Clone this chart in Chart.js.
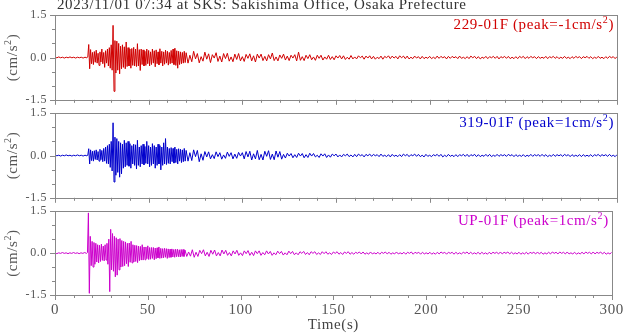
<!DOCTYPE html>
<html>
<head>
<meta charset="utf-8">
<script src="https://cdn.jsdelivr.net/npm/chart.js@4.4.0/dist/chart.umd.min.js"></script>
<style>
  body { margin: 0; background: #fff; }
  #wrap { position: relative; width: 629px; height: 334px; }
  canvas { position: absolute; left: 0; display: block; }
</style>
</head>
<body>
<div id="wrap">
  <canvas id="c1" width="629" height="115" style="top:0"></canvas>
  <canvas id="c2" width="629" height="115" style="top:98px"></canvas>
  <canvas id="c3" width="629" height="138" style="top:196px"></canvas>
</div>
<script>
// titulo e rotulos
const titulo = '2023/11/01 07:34 at SKS: Sakishima Office, Osaka Prefecture';
const canais = ['229-01F', '319-01F', 'UP-01F'];
const picos = [-1, 1, 1];
const cores = ['#d00000', '#0000cc', '#cc00cc'];
const xTickLabels = [0, 50, 100, 150, 200, 250, 300];
const yTickLabels = [-1.5, 0, 1.5];

// amostragem: 0-17 s a cada 1 s, 17.5-70 s a cada 0.5 s, 71-300 s a cada 1 s
const segInicio = [0, 17.5, 71];
const segPasso = [1, 0.5, 1];

// aceleracao (cm/s2) - 229-01F
const acc229Pre = [0.01,-0.01,0.02,-0.01,0.01,-0.02,0.01,-0.01,0.02,-0.01,0.01,-0.02,0.01,-0.01,0.01,-0.02,0.01,-0.01];
const acc229Main = [
  0.02,0.46,-0.40,0.28,-0.22,0.18,-0.25,0.21,-0.17,0.26,
  -0.2,0.15,-0.28,0.2,-0.16,0.3,-0.22,0.18,-0.35,0.24,
  -0.2,0.3,-0.3,0.35,-0.38,0.45,-0.45,1.14,-1.2,0.6,
  -0.55,0.58,-0.45,0.5,-0.58,0.4,-0.4,0.45,-0.35,0.38,
  -0.4,0.55,-0.32,0.35,-0.3,0.3,-0.38,0.32,-0.28,0.36,
  -0.3,0.3,-0.32,0.49,-0.3,0.28,-0.46,0.3,-0.25,0.27,
  -0.3,0.22,-0.28,0.3,-0.22,0.25,-0.3,0.2,-0.25,0.3,
  -0.2,0.24,-0.33,0.27,-0.22,0.2,-0.26,0.31,-0.2,0.22,
  -0.3,0.2,-0.24,0.26,-0.2,0.22,-0.27,0.18,-0.22,0.25,
  -0.2,0.3,-0.25,0.33,-0.28,0.24,-0.38,0.22,-0.25,0.2,
  -0.22,0.18,-0.2,0.22,-0.18,0.17];
const acc229Coda = [
  -0.2,0.08,-0.15,0.22,-0.05,0.14,-0.19,0.03,-0.13,0.19,
  -0.06,0.13,-0.18,0.1,-0.02,0.17,-0.14,0.05,-0.16,0.14,
  -0.04,0.15,-0.13,0.02,-0.15,0.12,-0.07,0.14,-0.12,0.03,
  -0.14,0.11,-0.03,0.13,-0.12,0.06,-0.16,0.12,-0.02,0.12,
  -0.11,0.04,-0.12,0.1,-0.05,0.16,-0.11,0.02,-0.12,0.09,
  -0.03,0.12,-0.09,0.05,-0.11,0.08,-0.02,0.1,-0.12,0.19,
  -0.1,0.03,-0.11,0.08,-0.04,0.1,-0.08,0.02,-0.1,0.08,
  -0.03,0.08,-0.09,0.02,-0.06,0.08,-0.07,0.03,-0.08,0.06,
  -0.02,0.07,-0.05,0.06,-0.07,0.01,-0.06,0.07,-0.05,0.02,
  -0.05,0.06,-0.01,0.05,-0.06,0.05,-0.02,0.06,-0.05,0.04,
  -0.06,0.01,-0.04,0.05,-0.06,0.04,-0.01,0.06,-0.04,0.05,
  -0.02,0.04,-0.05,0.06,-0.01,0.05,-0.04,0.05,-0.05,0.01,
  -0.04,0.05,-0.02,0.03,-0.05,0.04,-0.04,0.01,-0.03,0.04,
  -0.04,0.01,-0.04,0.05,-0.03,0.04,-0.01,0.03,-0.05,0.04,
  -0.03,0.04,-0.01,0.03,-0.04,0.05,-0.03,0.01,-0.04,0.03,
  -0.04,0.05,-0.01,0.04,-0.04,0.03,-0.05,0.01,-0.03,0.04,
  -0.04,0.03,-0.01,0.04,-0.03,0.04,-0.05,0.03,-0.01,0.04,
  -0.03,0.04,-0.04,0.01,-0.04,0.03,-0.04,0.04,-0.01,0.04,
  -0.04,0.03,-0.03,0.04,-0.01,0.03,-0.04,0.03,-0.03,0.01,
  -0.03,0.04,-0.04,0.03,-0.01,0.04,-0.03,0.03,-0.04,0.01,
  -0.03,0.04,-0.03,0.01,-0.04,0.03,-0.03,0.04,-0.01,0.03,
  -0.04,0.03,-0.01,0.04,-0.03,0.03,-0.04,0.01,-0.03,0.04,
  -0.03,0.01,-0.04,0.03,-0.03,0.04,-0.01,0.03,-0.04,0.03];

// 319-01F
const acc319Pre = [0.02,-0.01,0.01,-0.02,0.01,-0.01,0.02,-0.01,0.01,-0.02,0.01,-0.01,0.02,-0.01,0.01,-0.02,0.01,-0.01];
const acc319Main = [
  0.01,0.24,-0.3,0.2,-0.18,0.15,-0.2,0.17,-0.14,0.2,
  -0.16,0.14,-0.2,0.22,-0.15,0.18,-0.22,0.25,-0.2,0.3,
  -0.28,0.35,-0.3,0.4,-0.42,0.5,-0.55,1.16,-0.94,0.65,
  -0.7,0.6,-0.6,0.5,-0.77,0.45,-0.65,0.4,-0.45,0.54,
  -0.4,0.45,-0.35,0.5,-0.38,0.42,-0.45,0.35,-0.3,0.4,
  -0.35,0.38,-0.48,0.54,-0.35,0.3,-0.4,0.35,-0.3,0.4,
  -0.33,0.32,-0.28,0.5,-0.3,0.35,-0.4,0.3,-0.35,0.42,
  -0.3,0.35,-0.45,0.3,-0.35,0.4,-0.3,0.35,-0.51,0.3,
  -0.35,0.45,-0.3,0.6,-0.32,0.3,-0.28,0.25,-0.3,0.28,
  -0.22,0.25,-0.27,0.3,-0.25,0.22,-0.3,0.24,-0.2,0.22,
  -0.25,0.2,-0.22,0.25,-0.2,0.18];
const acc319Coda = [
  -0.2,0.1,-0.18,0.2,-0.04,0.18,-0.22,0.06,-0.17,0.14,
  -0.05,0.13,-0.12,0.03,-0.11,0.13,-0.04,0.1,-0.13,0.02,
  -0.1,0.12,-0.03,0.1,-0.12,0.05,-0.1,0.11,-0.02,0.1,
  -0.12,0.14,-0.05,0.15,-0.16,0.06,-0.12,0.18,-0.15,0.04,
  -0.16,0.15,-0.03,0.17,-0.14,0.05,-0.15,0.16,-0.06,0.14,
  -0.13,0.04,-0.09,0.08,-0.02,0.07,-0.08,0.03,-0.07,0.08,
  -0.02,0.07,-0.08,0.03,-0.07,0.08,-0.02,0.07,-0.05,0.01,
  -0.07,0.06,-0.02,0.06,-0.07,0.02,-0.06,0.05,-0.01,0.05,
  -0.05,0.02,-0.05,0.04,-0.01,0.05,-0.04,0.02,-0.05,0.04,
  -0.04,0.05,-0.01,0.03,-0.05,0.04,-0.01,0.05,-0.03,0.04,
  -0.01,0.03,-0.04,0.05,-0.03,0.01,-0.04,0.03,-0.05,0.04,
  -0.03,0.01,-0.04,0.03,-0.04,0.05,-0.01,0.04,-0.04,0.03,
  -0.01,0.05,-0.03,0.04,-0.04,0.01,-0.05,0.04,-0.03,0.01,
  -0.04,0.03,-0.01,0.04,-0.03,0.04,-0.05,0.01,-0.04,0.04,
  -0.03,0.01,-0.04,0.03,-0.04,0.03,-0.01,0.04,-0.03,0.04,
  -0.04,0.03,-0.01,0.04,-0.04,0.03,-0.04,0.01,-0.03,0.04,
  -0.03,0.04,-0.04,0.01,-0.03,0.04,-0.03,0.03,-0.01,0.03,
  -0.03,0.04,-0.01,0.03,-0.04,0.03,-0.03,0.01,-0.03,0.03,
  -0.04,0.01,-0.03,0.04,-0.03,0.03,-0.01,0.03,-0.03,0.04,
  -0.03,0.03,-0.04,0.01,-0.03,0.04,-0.03,0.03,-0.01,0.03,
  -0.03,0.04,-0.01,0.03,-0.04,0.03,-0.03,0.01,-0.03,0.03,
  -0.04,0.03,-0.03,0.01,-0.03,0.03,-0.04,0.03,-0.01,0.04,
  -0.03,0.03,-0.01,0.03,-0.03,0.04,-0.03,0.01,-0.04,0.03];

// UP-01F
const accUPPre = [0.01,-0.02,0.01,-0.01,0.02,-0.01,0.01,-0.02,0.01,-0.01,0.02,-0.01,0.01,-0.02,0.01,-0.01,0.02,-0.01];
const accUPMain = [
  0.02,1.44,-1.44,0.6,-0.45,0.42,-0.5,0.38,-0.4,0.35,
  -0.32,0.3,-0.35,0.28,-0.3,0.32,-0.26,0.25,-0.28,0.3,
  -0.25,0.35,-0.4,0.5,-1.38,0.85,-0.6,0.7,-0.65,0.6,
  -0.85,0.55,-0.79,0.5,-0.6,0.52,-0.5,0.45,-0.48,0.42,
  -0.45,0.4,-0.38,0.35,-0.48,0.36,-0.33,0.42,-0.35,0.3,
  -0.32,0.28,-0.3,0.27,-0.34,0.25,-0.27,0.24,-0.25,0.3,
  -0.25,0.22,-0.24,0.22,-0.2,0.26,-0.23,0.2,-0.22,0.2,
  -0.19,0.2,-0.24,0.18,-0.2,0.19,-0.17,0.22,-0.19,0.17,
  -0.18,0.16,-0.17,0.17,-0.15,0.16,-0.19,0.15,-0.16,0.14,
  -0.15,0.15,-0.14,0.13,-0.15,0.14,-0.13,0.14,-0.13,0.12,
  -0.14,0.13,-0.12,0.13,-0.12,0.11];
const accUPCoda = [
  -0.12,0.04,-0.11,0.12,-0.15,0.03,-0.12,0.1,-0.02,0.12,
  -0.1,0.03,-0.12,0.1,-0.04,0.11,-0.1,0.02,-0.1,0.11,
  -0.03,0.1,-0.08,0.02,-0.1,0.08,-0.03,0.1,-0.08,0.01,
  -0.09,0.08,-0.02,0.09,-0.08,0.03,-0.09,0.08,-0.02,0.08,
  -0.08,0.02,-0.06,0.08,-0.03,0.06,-0.08,0.01,-0.06,0.07,
  -0.02,0.06,-0.07,0.01,-0.06,0.07,-0.02,0.06,-0.06,0.01,
  -0.06,0.05,-0.01,0.06,-0.05,0.02,-0.06,0.05,-0.01,0.05,
  -0.05,0.01,-0.05,0.05,-0.02,0.05,-0.04,0.01,-0.05,0.04,
  -0.01,0.05,-0.04,0.02,-0.05,0.04,-0.01,0.05,-0.04,0.02,
  -0.04,0.03,-0.01,0.04,-0.03,0.04,-0.04,0.01,-0.04,0.04,
  -0.03,0.01,-0.03,0.03,-0.04,0.03,-0.01,0.04,-0.03,0.03,
  -0.04,0.01,-0.03,0.04,-0.03,0.01,-0.03,0.03,-0.04,0.03,
  -0.01,0.04,-0.04,0.03,-0.01,0.03,-0.04,0.03,-0.03,0.01,
  -0.03,0.03,-0.04,0.01,-0.04,0.03,-0.03,0.04,-0.01,0.03,
  -0.04,0.03,-0.01,0.03,-0.04,0.03,-0.03,0.01,-0.03,0.03,
  -0.01,0.04,-0.03,0.03,-0.03,0.01,-0.03,0.03,-0.04,0.03,
  -0.03,0.01,-0.04,0.03,-0.03,0.03,-0.01,0.03,-0.03,0.04,
  -0.03,0.03,-0.01,0.04,-0.03,0.03,-0.03,0.01,-0.03,0.03,
  -0.04,0.01,-0.03,0.03,-0.04,0.03,-0.01,0.03,-0.03,0.04,
  -0.03,0.03,-0.04,0.01,-0.03,0.03,-0.03,0.04,-0.01,0.03,
  -0.03,0.04,-0.01,0.03,-0.03,0.04,-0.03,0.01,-0.03,0.03,
  -0.04,0.01,-0.03,0.03,-0.03,0.04,-0.01,0.03,-0.03,0.04,
  -0.03,0.03,-0.01,0.04,-0.03,0.03,-0.04,0.01,-0.03,0.03];

const FONTE = '"Liberation Serif", "Times New Roman", serif';
const ESPACO = '0.6px';

function montarPontos(segs) {
    var pts = [];
    for (var s = 0; s < segs.length; s++) {
        for (var i = 0; i < segs[s].length; i++) {
            pts.push({ x: segInicio[s] + i * segPasso[s], y: segs[s][i] });
        }
    }
    return pts;
}

// texto com expoente (cm/s2)
function textoSup(ctx, antes, sup, depois, x, y, align, size) {
    ctx.font = size + 'px ' + FONTE;
    var w1 = ctx.measureText(antes).width;
    var w3 = ctx.measureText(depois).width;
    ctx.font = Math.round(size * 0.68) + 'px ' + FONTE;
    var w2 = ctx.measureText(sup).width;
    var total = w1 + w2 + w3;
    var x0 = x;
    if (align === 'right') x0 = x - total;
    if (align === 'center') x0 = x - total / 2;
    ctx.textAlign = 'left';
    ctx.textBaseline = 'alphabetic';
    ctx.font = size + 'px ' + FONTE;
    ctx.fillText(antes, x0, y);
    ctx.font = Math.round(size * 0.68) + 'px ' + FONTE;
    ctx.fillText(sup, x0 + w1, y - size * 0.42);
    ctx.font = size + 'px ' + FONTE;
    ctx.fillText(depois, x0 + w1 + w2, y);
}

const molduraPlugin = {
    id: 'moldura',
    beforeDraw(chart) {
        chart.ctx.letterSpacing = ESPACO;
    },
    afterDraw(chart) {
        const ctx = chart.ctx;
        const a = chart.chartArea;
        const xs = chart.scales.x, ys = chart.scales.y;
        const n = chart.options.painel;
        ctx.save();
        ctx.letterSpacing = ESPACO;
        ctx.strokeStyle = '#888';
        ctx.lineWidth = 1;
        ctx.strokeRect(Math.round(a.left) + 0.5, Math.round(a.top) + 0.5,
            Math.round(a.right - a.left), Math.round(a.bottom - a.top));

        // marcas dos eixos
        ctx.beginPath();
        for (var v = -1.5; v <= 1.51; v += 0.5) {
            var py = Math.round(ys.getPixelForValue(v)) + 0.5;
            var len = (Math.abs(v) < 0.01 || Math.abs(v) > 1.49) ? 5 : 3;
            ctx.moveTo(a.left - len, py);
            ctx.lineTo(a.left, py);
        }
        for (var t = 0; t <= 300; t += 10) {
            var px = Math.round(xs.getPixelForValue(t)) + 0.5;
            var lx = (t % 50 === 0) ? 5 : 3;
            ctx.moveTo(px, a.bottom);
            ctx.lineTo(px, a.bottom + lx);
        }
        ctx.stroke();

        // nome do canal e pico
        ctx.fillStyle = cores[n];
        textoSup(ctx, canais[n] + ' (peak=' + picos[n] + 'cm/s', '2', ')', a.right - 3, a.top + 14, 'right', 15);

        // unidade do eixo y
        ctx.fillStyle = '#555';
        ctx.save();
        ctx.translate(17, (a.top + a.bottom) / 2);
        ctx.rotate(-Math.PI / 2);
        textoSup(ctx, '(cm/s', '2', ')', 0, 0, 'center', 15);
        ctx.restore();

        if (n === 0) {
            ctx.fillStyle = '#333';
            ctx.font = '15px ' + FONTE;
            ctx.textAlign = 'left';
            ctx.textBaseline = 'alphabetic';
            ctx.fillText(titulo, 57, 9);
        }
        ctx.restore();
    }
};

function gerarPainel(id, n, segs, mostrarX) {
    return new Chart(document.getElementById(id), {
        type: 'line',
        data: {
            datasets: [{
                data: montarPontos(segs),
                borderColor: cores[n],
                borderWidth: 1,
                pointRadius: 0,
                tension: 0,
                fill: false
            }]
        },
        options: {
            painel: n,
            responsive: false,
            maintainAspectRatio: false,
            animation: false,
            parsing: false,
            layout: { padding: { top: 15, bottom: 0, left: 0, right: 12 } },
            plugins: { legend: { display: false }, tooltip: { enabled: false } },
            scales: {
                x: {
                    type: 'linear',
                    min: 0,
                    max: 300,
                    grid: { display: false, drawTicks: false },
                    border: { display: false },
                    ticks: {
                        display: mostrarX,
                        font: { family: FONTE, size: 15 },
                        color: '#555',
                        padding: 6,
                        maxRotation: 0
                    },
                    afterBuildTicks: function(s) {
                        s.ticks = xTickLabels.map(function(v) { return { value: v }; });
                    },
                    // so o painel de baixo mostra os rotulos de tempo
                    afterFit: function(s) { s.height = mostrarX ? 39 : 10; },
                    title: {
                        display: mostrarX,
                        text: 'Time(s)',
                        font: { family: FONTE, size: 15 },
                        color: '#444',
                        padding: { top: 0, bottom: 0 }
                    }
                },
                y: {
                    min: -1.5,
                    max: 1.5,
                    grid: { display: false, drawTicks: false },
                    border: { display: false },
                    ticks: {
                        font: { family: FONTE, size: 12 },
                        color: '#555',
                        padding: 8,
                        callback: function(v) { return v.toFixed(1); }
                    },
                    afterBuildTicks: function(s) {
                        s.ticks = yTickLabels.map(function(v) { return { value: v }; });
                    },
                    afterFit: function(s) { s.width = 55; }
                }
            }
        },
        plugins: [molduraPlugin]
    });
}

gerarPainel('c1', 0, [acc229Pre, acc229Main, acc229Coda], false);
gerarPainel('c2', 1, [acc319Pre, acc319Main, acc319Coda], false);
gerarPainel('c3', 2, [accUPPre, accUPMain, accUPCoda], true);
</script>
</body>
</html>
